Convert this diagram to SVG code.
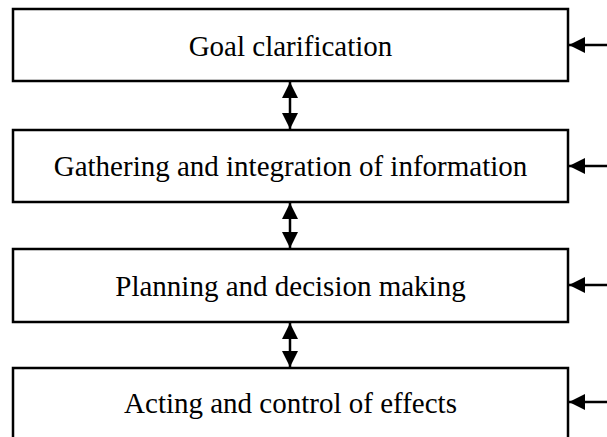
<svg xmlns="http://www.w3.org/2000/svg" width="607" height="437" viewBox="0 0 607 437">
<style>
.box{fill:#fff;stroke:#000;stroke-width:2.5}
.lbl{font-family:"Liberation Serif","Times New Roman",serif;font-size:29px;fill:#000;text-anchor:middle}
.con{stroke:#000;stroke-width:2.5;fill:none}
</style>
<defs>
<marker id="ah" viewBox="0 0 10 10" refX="10" refY="5" markerWidth="6.4" markerHeight="6.4" orient="auto-start-reverse" markerUnits="strokeWidth">
<path d="M0,0 L10,5 L0,10 z" fill="#000"/>
</marker>
</defs>
<g id="n1"><rect class="box" x="13" y="9" width="555" height="72"/><text class="lbl" x="290.5" y="56">Goal clarification</text></g>
<g id="n2"><rect class="box" x="13" y="130" width="555" height="72"/><text class="lbl" x="290.5" y="176">Gathering and integration of information</text></g>
<g id="n3"><rect class="box" x="13" y="249" width="555" height="73"/><text class="lbl" x="290.5" y="296">Planning and decision making</text></g>
<g id="n4"><rect class="box" x="13" y="368" width="555" height="80"/><text class="lbl" x="290.5" y="413">Acting and control of effects</text></g>
<g id="connectors">
<line class="con" x1="290" y1="82" x2="290" y2="129" marker-start="url(#ah)" marker-end="url(#ah)"/>
<line class="con" x1="290" y1="203" x2="290" y2="248" marker-start="url(#ah)" marker-end="url(#ah)"/>
<line class="con" x1="290" y1="323" x2="290" y2="367" marker-start="url(#ah)" marker-end="url(#ah)"/>
<line class="con" x1="607" y1="45" x2="569" y2="45" marker-end="url(#ah)"/>
<line class="con" x1="607" y1="166" x2="569" y2="166" marker-end="url(#ah)"/>
<line class="con" x1="607" y1="285" x2="569" y2="285" marker-end="url(#ah)"/>
<line class="con" x1="607" y1="402" x2="569" y2="402" marker-end="url(#ah)"/>
</g>
</svg>
